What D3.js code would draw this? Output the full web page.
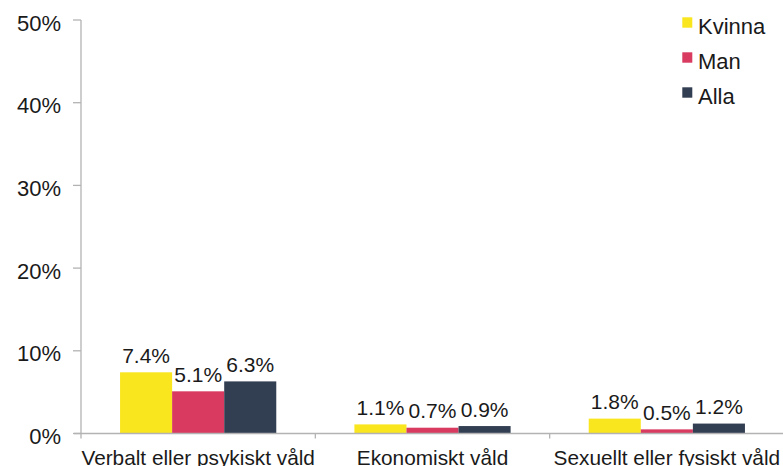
<!DOCTYPE html>
<html>
<head>
<meta charset="utf-8">
<script src="https://cdn.jsdelivr.net/npm/d3@7"></script>
<style>
  html, body { margin: 0; padding: 0; background: #fff; }
  svg { display: block; }
  text { font-family: "Liberation Sans", Arial, sans-serif; fill: #1a1a1a; }
</style>
</head>
<body>
<svg id="chart" width="783" height="466"></svg>
<script>
const categories = ["Verbalt eller psykiskt våld", "Ekonomiskt våld", "Sexuellt eller fysiskt våld"];
const seriesNames = ["Kvinna", "Man", "Alla"];
const kvinna = [7.4, 1.1, 1.8];
const man = [5.1, 0.7, 0.5];
const alla = [6.3, 0.9, 1.2];
const yTicks = [0, 10, 20, 30, 40, 50];
const colors = ["#FAE61E", "#D83A60", "#323E52"];

(function () {
const seriesValues = [kvinna, man, alla];
const svg = d3.select("#chart");
const mLeft = 81, mRight = 784, mTop = 20, mBottom = 433.5;
const axisColor = "#b3b3b3";

const x = d3.scaleBand().domain(categories).range([mLeft, mRight]).padding(0);
const y = d3.scaleLinear().domain([0, 50]).range([mBottom, mTop]);
const barW = x.bandwidth() / 4.5;
const xs = d3.scaleBand().domain(seriesNames).range([0, barW * 3]);

// Y axis
const yAxis = svg.append("g");
yAxis.append("line").attr("x1", mLeft).attr("x2", mLeft).attr("y1", y(50)).attr("y2", y(0))
  .attr("stroke", axisColor).attr("stroke-width", 1.3);
yAxis.selectAll(".yt").data(yTicks).enter().append("line")
  .attr("x1", mLeft - 8).attr("x2", mLeft).attr("y1", d => y(d)).attr("y2", d => y(d))
  .attr("stroke", axisColor).attr("stroke-width", 1.3);
yAxis.selectAll(".yl").data(yTicks).enter().append("text")
  .attr("x", 61).attr("y", d => y(d) + 10.5)
  .attr("text-anchor", "end").attr("font-size", 22)
  .text(d => d + "%");

// Bars
categories.forEach((c, ci) => {
  const gx = x(c) + (x.bandwidth() - barW * 3) / 2;
  seriesNames.forEach((s, si) => {
    const v = seriesValues[si][ci];
    svg.append("rect")
      .attr("x", gx + xs(s)).attr("width", xs.bandwidth())
      .attr("y", y(v)).attr("height", y(0) - y(v))
      .attr("fill", colors[si]);
  });
  seriesNames.forEach((s, si) => {
    const v = seriesValues[si][ci];
    svg.append("text")
      .attr("x", gx + xs(s) + xs.bandwidth() / 2).attr("y", y(v) - 9.5)
      .attr("text-anchor", "middle").attr("font-size", 21)
      .text(v.toFixed(1) + "%");
  });
});

// X axis
svg.append("line").attr("x1", mLeft - 7).attr("x2", 783).attr("y1", y(0)).attr("y2", y(0))
  .attr("stroke", axisColor).attr("stroke-width", 1.5);
const bounds = categories.map(c => x(c)).concat([mRight]);
svg.selectAll(".xt").data(bounds).enter().append("line")
  .attr("x1", d => d).attr("x2", d => d).attr("y1", y(0)).attr("y2", y(0) + 5)
  .attr("stroke", axisColor).attr("stroke-width", 1.3);
svg.selectAll(".xl").data(categories).enter().append("text")
  .attr("x", d => x(d) + x.bandwidth() / 2).attr("y", 465)
  .attr("text-anchor", "middle").attr("font-size", 20.8)
  .text(d => d);

// Legend
const lg = svg.append("g");
seriesNames.forEach((s, i) => {
  const cy = 22.5 + i * 35;
  lg.append("rect").attr("x", 682.3).attr("y", cy - 5.2).attr("width", 10).attr("height", 10.4)
    .attr("fill", colors[i]);
  lg.append("text").attr("x", 698).attr("y", cy + 11.5).attr("font-size", 22).text(s);
});
})();
</script>
</body>
</html>
